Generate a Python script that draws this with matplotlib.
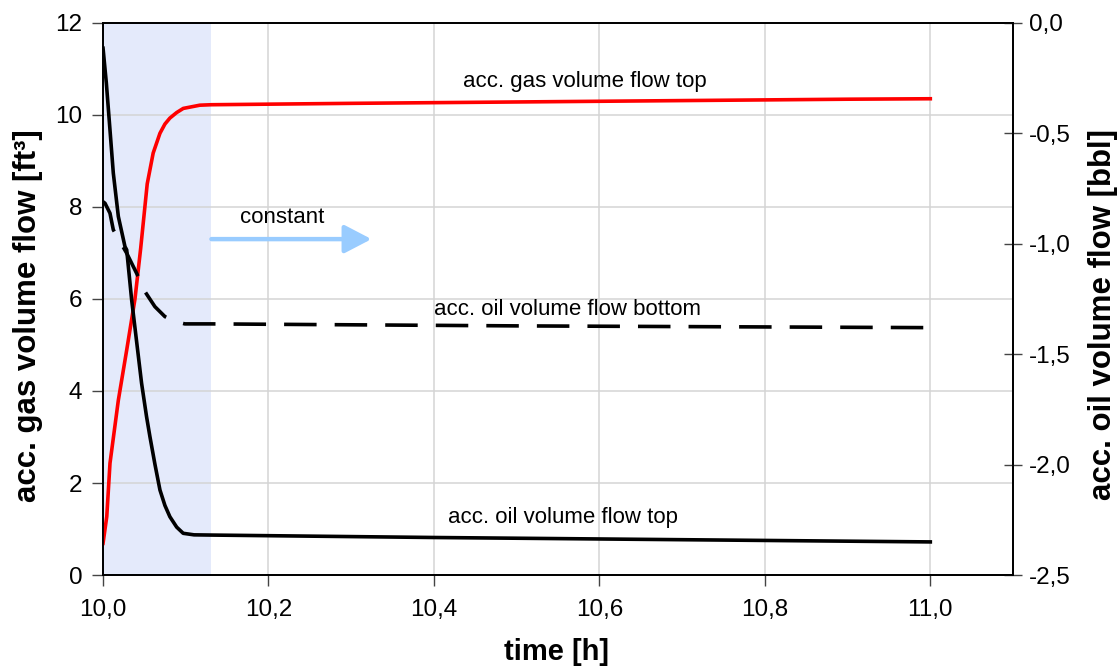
import matplotlib
matplotlib.use("Agg")
import matplotlib.pyplot as plt
from matplotlib.ticker import FuncFormatter

plt.rcParams['font.family'] = ['Liberation Sans', 'DejaVu Sans']

# accumulated gas volume flow at the top [ft3]
t_gas = [10.0, 10.0045, 10.0084, 10.0185, 10.0286, 10.0386, 10.0455, 10.0534,
         10.0606, 10.0688, 10.0748, 10.0808, 10.089, 10.097, 10.117,
         10.131, 10.3, 10.5, 10.7, 10.9, 11.0]
gas_top = [0.69, 1.27, 2.43, 3.80, 4.89, 6.0, 7.1, 8.5,
           9.17, 9.6, 9.8, 9.93, 10.05, 10.14, 10.21,
           10.22, 10.25, 10.28, 10.31, 10.34, 10.35]

# accumulated oil volume flow at the top [bbl]
t_oil_top = [10.0, 10.004, 10.0084, 10.0124, 10.0185, 10.0265, 10.0286,
             10.0346, 10.0466, 10.0526, 10.0567, 10.0628, 10.0688, 10.0748,
             10.0808, 10.089, 10.0969, 10.11, 10.131, 10.4, 10.7, 11.0]
oil_top = [-0.115, -0.273, -0.485, -0.68, -0.877, -1.013, -1.028,
           -1.255, -1.632, -1.783, -1.874, -2.0, -2.115, -2.185,
           -2.236, -2.283, -2.311, -2.318, -2.319, -2.33, -2.34, -2.35]

# accumulated oil volume flow at the bottom [bbl]
t_oil_bot = [10.0, 10.0024, 10.0084, 10.0124, 10.0286, 10.0406, 10.0507,
             10.0627, 10.0748, 10.0869, 10.0989, 10.131, 10.5, 11.0]
oil_bot = [-0.81, -0.817, -0.862, -0.937, -1.043, -1.134, -1.217,
           -1.285, -1.330, -1.352, -1.363, -1.363, -1.372, -1.38]

x_ticks = [10.0, 10.2, 10.4, 10.6, 10.8, 11.0]
left_ticks = [0, 2, 4, 6, 8, 10, 12]
right_ticks = [0.0, -0.5, -1.0, -1.5, -2.0, -2.5]

comma = FuncFormatter(lambda v, pos: ("%.1f" % v).replace(".", ","))

fig = plt.figure(figsize=(11.2, 6.71), dpi=100)
ax = fig.add_axes([0.092, 0.143, 0.8125, 0.823])
ax2 = ax.twinx()

# settling period
ax.axvspan(10.0, 10.131, color='#e4eafb', zorder=0, lw=0)

ax.plot(t_gas, gas_top, color='#ff0000', lw=2.6, zorder=3)
ax2.plot(t_oil_top, oil_top, color='#000000', lw=2.6)
ax2.plot(t_oil_bot, oil_bot, color='#000000', lw=2.6, linestyle=(0, (9, 5)))

ax.set_xlim(10.0, 11.1)
ax.set_ylim(0, 12)
ax2.set_ylim(-2.5, 0.0)
ax.set_xticks(x_ticks)
ax.set_yticks(left_ticks)
ax2.set_yticks(right_ticks)
ax.xaxis.set_major_formatter(comma)
ax2.yaxis.set_major_formatter(comma)

ax.grid(True, color='#d4d4d4', lw=1.1)
ax.set_axisbelow(True)
ax.tick_params(axis='both', direction='out', length=8, width=1, labelsize=17.5,
               color='#444444')
ax.tick_params(axis='x', pad=9)
ax.tick_params(axis='y', pad=7)
ax2.tick_params(axis='y', direction='inout', length=13, width=1, labelsize=17.5,
                pad=5, color='#444444')
for a in (ax, ax2):
    for s in a.spines.values():
        s.set_color('#000000')
        s.set_linewidth(1.3)

ax.annotate('', xy=(10.3245, 7.3), xytext=(10.131, 7.3),
            arrowprops=dict(arrowstyle='-|>,head_length=1.65,head_width=0.86',
                            color='#99ccff', lw=3.2, shrinkA=0, shrinkB=0))

ax.text(10.216, 7.78, 'constant', fontsize=16, ha='center', va='center')
ax.text(10.583, 10.72, 'acc. gas volume flow top', fontsize=16, ha='center', va='center')
ax.text(10.561, 5.78, 'acc. oil volume flow bottom', fontsize=16, ha='center', va='center')
ax.text(10.556, 1.24, 'acc. oil volume flow top', fontsize=16, ha='center', va='center')

fig.text(556 / 1120, 1 - 652 / 671, 'time [h]', fontsize=21, fontweight='bold',
         ha='center', va='center')
fig.text(28 / 1120, 1 - 316 / 671, 'acc. gas volume flow [ft³]', fontsize=22.5,
         fontweight='bold', rotation=90, ha='center', va='center')
fig.text(1103 / 1120, 1 - 314 / 671, 'acc. oil volume flow [bbl]', fontsize=22.5,
         fontweight='bold', rotation=90, ha='center', va='center')

fig.savefig('out.png', dpi=100)
